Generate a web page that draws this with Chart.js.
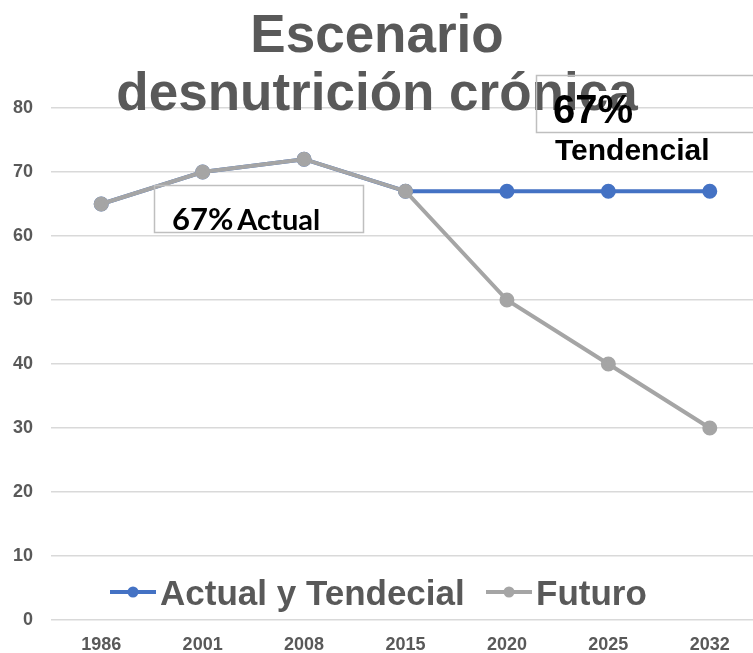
<!DOCTYPE html>
<html>
<head>
<meta charset="utf-8">
<script src="https://cdn.jsdelivr.net/npm/chart.js@4.4.0/dist/chart.umd.min.js"></script>
<style>
  html, body { margin: 0; padding: 0; background: #fff; overflow: hidden; }
  #wrap { width: 770px; height: 653px; }
</style>
</head>
<body>
<div id="wrap"><canvas id="myChart" width="770" height="653"></canvas></div>
<script>
var years = ['1986', '2001', '2008', '2015', '2020', '2025', '2032'];
var actualTendecial = [65, 70, 72, 67, 67, 67, 67];
var futuro = [65, 70, 72, 67, 50, 40, 30];
var yMin = 0, yMax = 80, yStep = 10;

var titleLines = ['Escenario', 'desnutrición crónica'];

var blue = '#4472C4';
var gray = '#A5A5A5';
var textGray = '#595959';

// title, legend and the two note boxes sit inside the plot, so draw them by hand
var overlay = {
    id: 'overlay',
    afterDraw: function (chart) {
        var c = chart.ctx;
        c.save();

        c.fillStyle = textGray;
        c.textAlign = 'center';
        c.textBaseline = 'alphabetic';
        c.font = 'bold 53px "Liberation Sans", Arial, sans-serif';
        c.fillText(titleLines[0], 377, 52);
        c.fillText(titleLines[1], 377, 110);

        // legend
        var items = [
            { label: chart.data.datasets[0].label, color: blue, x: 110 },
            { label: chart.data.datasets[1].label, color: gray, x: 486 }
        ];
        items.forEach(function (it) {
            c.strokeStyle = it.color;
            c.lineWidth = 4;
            c.beginPath();
            c.moveTo(it.x, 592);
            c.lineTo(it.x + 46, 592);
            c.stroke();
            c.fillStyle = it.color;
            c.beginPath();
            c.arc(it.x + 23, 592, 5.5, 0, Math.PI * 2);
            c.fill();
            c.fillStyle = textGray;
            c.textAlign = 'left';
            c.font = 'bold 35px "Liberation Sans", Arial, sans-serif';
            c.fillText(it.label, it.x + 50, 605);
        });

        // note boxes
        c.strokeStyle = '#BFBFBF';
        c.lineWidth = 1.5;
        c.strokeRect(154.5, 185.5, 209, 47);
        c.strokeRect(536.5, 75.5, 240, 57);

        c.fillStyle = '#000';
        c.textAlign = 'left';
        c.font = 'bold 31px Lato, "Open Sans", sans-serif';
        c.fillText('67%', 172, 230);
        var w = c.measureText('67%').width;
        c.font = 'bold 29px Lato, "Open Sans", sans-serif';
        c.fillText('Actual', 172 + w + 4, 230);

        c.font = 'bold 40px "Liberation Sans", Arial, sans-serif';
        c.fillText('67%', 553, 123);
        c.font = 'bold 30px "Liberation Sans", Arial, sans-serif';
        c.fillText('Tendencial', 555, 160);

        c.restore();
    }
};

var ctx = document.getElementById('myChart').getContext('2d');
var myChart = new Chart(ctx, {
    type: 'line',
    data: {
        labels: years,
        datasets: [{
            label: 'Actual y Tendecial',
            data: actualTendecial,
            borderColor: blue,
            backgroundColor: blue,
            borderWidth: 4,
            pointRadius: 5.5,
            pointHoverRadius: 5.5,
            order: 2
        },
        {
            label: 'Futuro',
            data: futuro,
            borderColor: gray,
            backgroundColor: gray,
            borderWidth: 4,
            pointRadius: 5.5,
            pointHoverRadius: 5.5,
            order: 1
        }]
    },
    options: {
        responsive: false,
        animation: false,
        layout: {
            padding: { top: 108, left: 0, right: 0, bottom: 0 }
        },
        plugins: {
            legend: { display: false },
            title: { display: false },
            tooltip: { enabled: false }
        },
        scales: {
            x: {
                offset: true,
                grid: { display: false, drawTicks: false },
                border: { display: false },
                ticks: {
                    color: textGray,
                    padding: 14,
                    font: { family: '"Liberation Sans", Arial, sans-serif', size: 18, weight: 'bold' }
                },
                afterFit: function (scale) { scale.height = 33; }
            },
            y: {
                min: yMin,
                max: yMax,
                grid: { color: '#D9D9D9', lineWidth: 1.5, drawTicks: false },
                border: { display: false },
                ticks: {
                    stepSize: yStep,
                    color: textGray,
                    padding: 17.5,
                    font: { family: '"Liberation Sans", Arial, sans-serif', size: 18, weight: 'bold' }
                },
                afterFit: function (scale) { scale.width = 50.5; }
            }
        }
    },
    plugins: [overlay]
});
</script>
</body>
</html>
